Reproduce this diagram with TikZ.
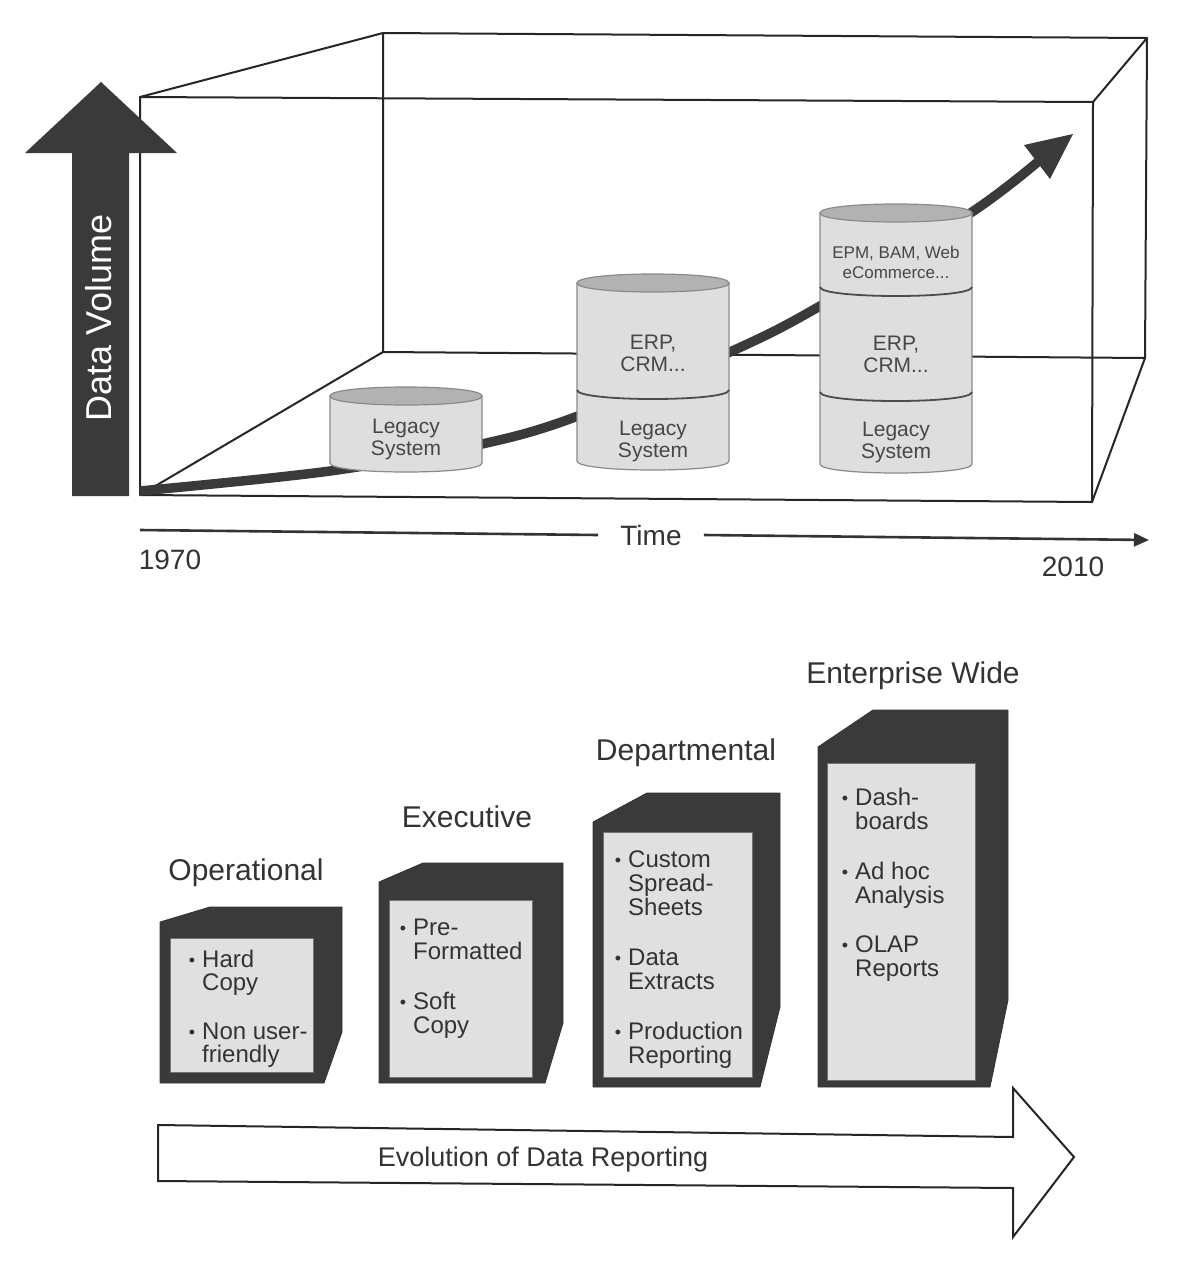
\documentclass[tikz,border=0pt]{standalone}
\usepackage{fontspec}
\setmainfont{Liberation Sans}
\usetikzlibrary{arrows.meta}
\definecolor{darkfill}{HTML}{3A3A3A}
\definecolor{cylbody}{HTML}{DEDEDE}
\definecolor{cyltop}{HTML}{B2B2B2}
\definecolor{cylline}{HTML}{8A8A8A}
\definecolor{panelfill}{HTML}{E0E0E0}
\definecolor{txtgray}{HTML}{474747}
\definecolor{txtdark}{HTML}{333333}
\newcommand{\dbbody}[4]{%
  \filldraw[fill=cylbody, draw=cylline, line width=1.2pt] ({#1-#2},#3) -- ({#1-#2},#4) .. controls ({#1-#2},{#4+12}) and ({#1+#2},{#4+12}) .. ({#1+#2},#4) -- ({#1+#2},#3) -- cycle;
  \filldraw[fill=cyltop, draw=cylline, line width=1.2pt] ({#1-#2},#3) .. controls ({#1-#2},{#3-12}) and ({#1+#2},{#3-12}) .. ({#1+#2},#3) .. controls ({#1+#2},{#3+12}) and ({#1-#2},{#3+12}) .. cycle;
}
\newcommand{\dbsplit}[3]{%
  \draw[draw=black!70, line width=1.8pt] ({#1-#2},#3) .. controls ({#1-#2},{#3+12}) and ({#1+#2},{#3+12}) .. ({#1+#2},#3);
}
\newcommand{\bul}{\llap{\raisebox{1pt}{\fontsize{18}{18}\selectfont •}\hspace{7pt}}}
\begin{document}
\begin{tikzpicture}[x=1pt,y=-1pt,
  boxline/.style={draw=black!85, line width=2pt, line join=round},
  cyltext/.style={font=\fontsize{21}{22}\selectfont, text=txtgray, align=center, inner sep=0},
  smalltext/.style={font=\fontsize{17}{20}\selectfont, text=txtgray, align=center, inner sep=0},
  axistext/.style={font=\fontsize{28}{28}\selectfont, text=txtdark, inner sep=0},
  title/.style={font=\fontsize{30}{30}\selectfont, text=txtdark, anchor=base, inner sep=0},
  bl/.style={font=\fontsize{24}{24}\selectfont, text=txtdark, anchor=base west, inner sep=0},
  rbox/.style={fill=darkfill, draw=black!80, line width=0.8pt, line join=round},
  panel/.style={fill=panelfill, draw=black!55, line width=1pt}
]
\useasboundingbox (0,0) rectangle (1192,1283);
\fill[white] (0,0) rectangle (1192,1283);

% ---------- 3D box ----------
\coordinate (BTL) at (383,33);
\coordinate (BTR) at (1147,38);
\coordinate (BBR) at (1145,358);
\coordinate (BBL) at (383,352);
\coordinate (FTL) at (140,97);
\coordinate (FTR) at (1093,102);
\coordinate (FBR) at (1092,502);
\coordinate (FBL) at (140,495);
\draw[boxline] (BTL) -- (BTR) -- (BBR) -- (BBL) -- cycle;
\draw[boxline] (FTL) -- (FTR) -- (FBR) -- (FBL) -- cycle;
\draw[boxline] (FTL) -- (BTL) (FTR) -- (BTR) (FBR) -- (BBR) (FBL) -- (BBL);

% ---------- growth curve ----------
\draw[line width=9.5pt, darkfill] plot[smooth, tension=0.55] coordinates {(140,491) (330,471) (482,444) (578,416) (730,352) (820,306) (972,212) (1040,160)};
\fill[darkfill] (1073,134) -- (1050,179) -- (1024,145) -- cycle;

% ---------- cylinders ----------
\dbbody{406}{76}{396}{463}
\node[cyltext] (c1a) at (406,439) {Legacy\\System};

\dbbody{653}{76}{283}{461}
\dbsplit{653}{76}{390}
\node[cyltext] (c2b) at (653,353) {ERP,\\CRM...};
\node[cyltext] (c2a) at (653,441) {Legacy\\System};

\dbbody{896}{76}{213}{464}
\dbsplit{896}{76}{287}
\dbsplit{896}{76}{392}
\node[smalltext] (c3c) at (896,262) {EPM, BAM, Web\\eCommerce...};
\node[cyltext] (c3b) at (896,354) {ERP,\\CRM...};
\node[cyltext] (c3a) at (896,442) {Legacy\\System};

% ---------- Data Volume arrow ----------
\fill[darkfill] (72,496) -- (129,496) -- (129,153) -- (177,153) -- (101,82) -- (25,153) -- (72,153) -- cycle;
\node[rotate=90, text=white, font=\fontsize{36}{36}\selectfont, inner sep=0] (dv) at (99,318) {Data Volume};

% ---------- Time axis ----------
\coordinate (t0) at (140,530);
\coordinate (t1) at (1149,540);
\node[axistext, inner xsep=22pt] (time) at (651,535) {Time};
\draw[line width=2.6pt, txtdark] (t0) -- (time.west);
\draw[line width=2.6pt, txtdark, -{Triangle[length=15pt,width=13pt]}] (time.east) -- (t1);
\node[axistext] (y1970) at (170,560) {1970};
\node[axistext] (y2010) at (1073,567) {2010};

% ---------- reporting boxes ----------
% Operational
\path[rbox] (160,922) -- (210,907) -- (342,907) -- (342,1032) -- (324,1083) -- (160,1083) -- cycle;
\path[panel] (170,938) rectangle (313,1072);
\node[title] (t-op) at (246,880) {Operational};
\node[bl] (op1) at (202,967) {\bul Hard};
\node[bl] (op2) at (202,990) {Copy};
\node[bl] (op3) at (202,1039) {\bul Non user-};
\node[bl] (op4) at (202,1062) {friendly};

% Executive
\path[rbox] (379,882) -- (423,863) -- (563,863) -- (563,1023) -- (545,1083) -- (379,1083) -- cycle;
\path[panel] (389,900) rectangle (532,1077);
\node[title] (t-ex) at (467,827) {Executive};
\node[bl] (ex1) at (413,935) {\bul Pre-};
\node[bl] (ex2) at (413,959) {Formatted};
\node[bl] (ex3) at (413,1009) {\bul Soft};
\node[bl] (ex4) at (413,1033) {Copy};

% Departmental
\path[rbox] (593,822) -- (647,793) -- (780,793) -- (780,1007) -- (760,1087) -- (593,1087) -- cycle;
\path[panel] (603,832) rectangle (752,1077);
\node[title] (t-dep) at (686,760) {Departmental};
\node[bl] (dp1) at (628,867) {\bul Custom};
\node[bl] (dp2) at (628,891) {Spread-};
\node[bl] (dp3) at (628,915) {Sheets};
\node[bl] (dp4) at (628,965) {\bul Data};
\node[bl] (dp5) at (628,989) {Extracts};
\node[bl] (dp6) at (628,1039) {\bul Production};
\node[bl] (dp7) at (628,1063) {Reporting};

% Enterprise Wide
\path[rbox] (818,747) -- (873,710) -- (1008,710) -- (1008,1000) -- (990,1087) -- (818,1087) -- cycle;
\path[panel] (827,763) rectangle (975,1080);
\node[title] (t-ent) at (913,683) {Enterprise Wide};
\node[bl] (en1) at (855,805) {\bul Dash-};
\node[bl] (en2) at (855,829) {boards};
\node[bl] (en3) at (855,879) {\bul Ad hoc};
\node[bl] (en4) at (855,903) {Analysis};
\node[bl] (en5) at (855,952) {\bul OLAP};
\node[bl] (en6) at (855,976) {Reports};

% ---------- Evolution arrow ----------
\draw[fill=white, draw=black!85, line width=2pt, line join=miter] (158,1125) -- (1013,1137) -- (1013,1088) -- (1074,1157) -- (1013,1237) -- (1013,1188) -- (158,1181) -- cycle;
\node[font=\fontsize{27}{27}\selectfont, text=txtdark, inner sep=0] (evo) at (543,1160) {Evolution of Data Reporting};
\end{tikzpicture}
\end{document}
